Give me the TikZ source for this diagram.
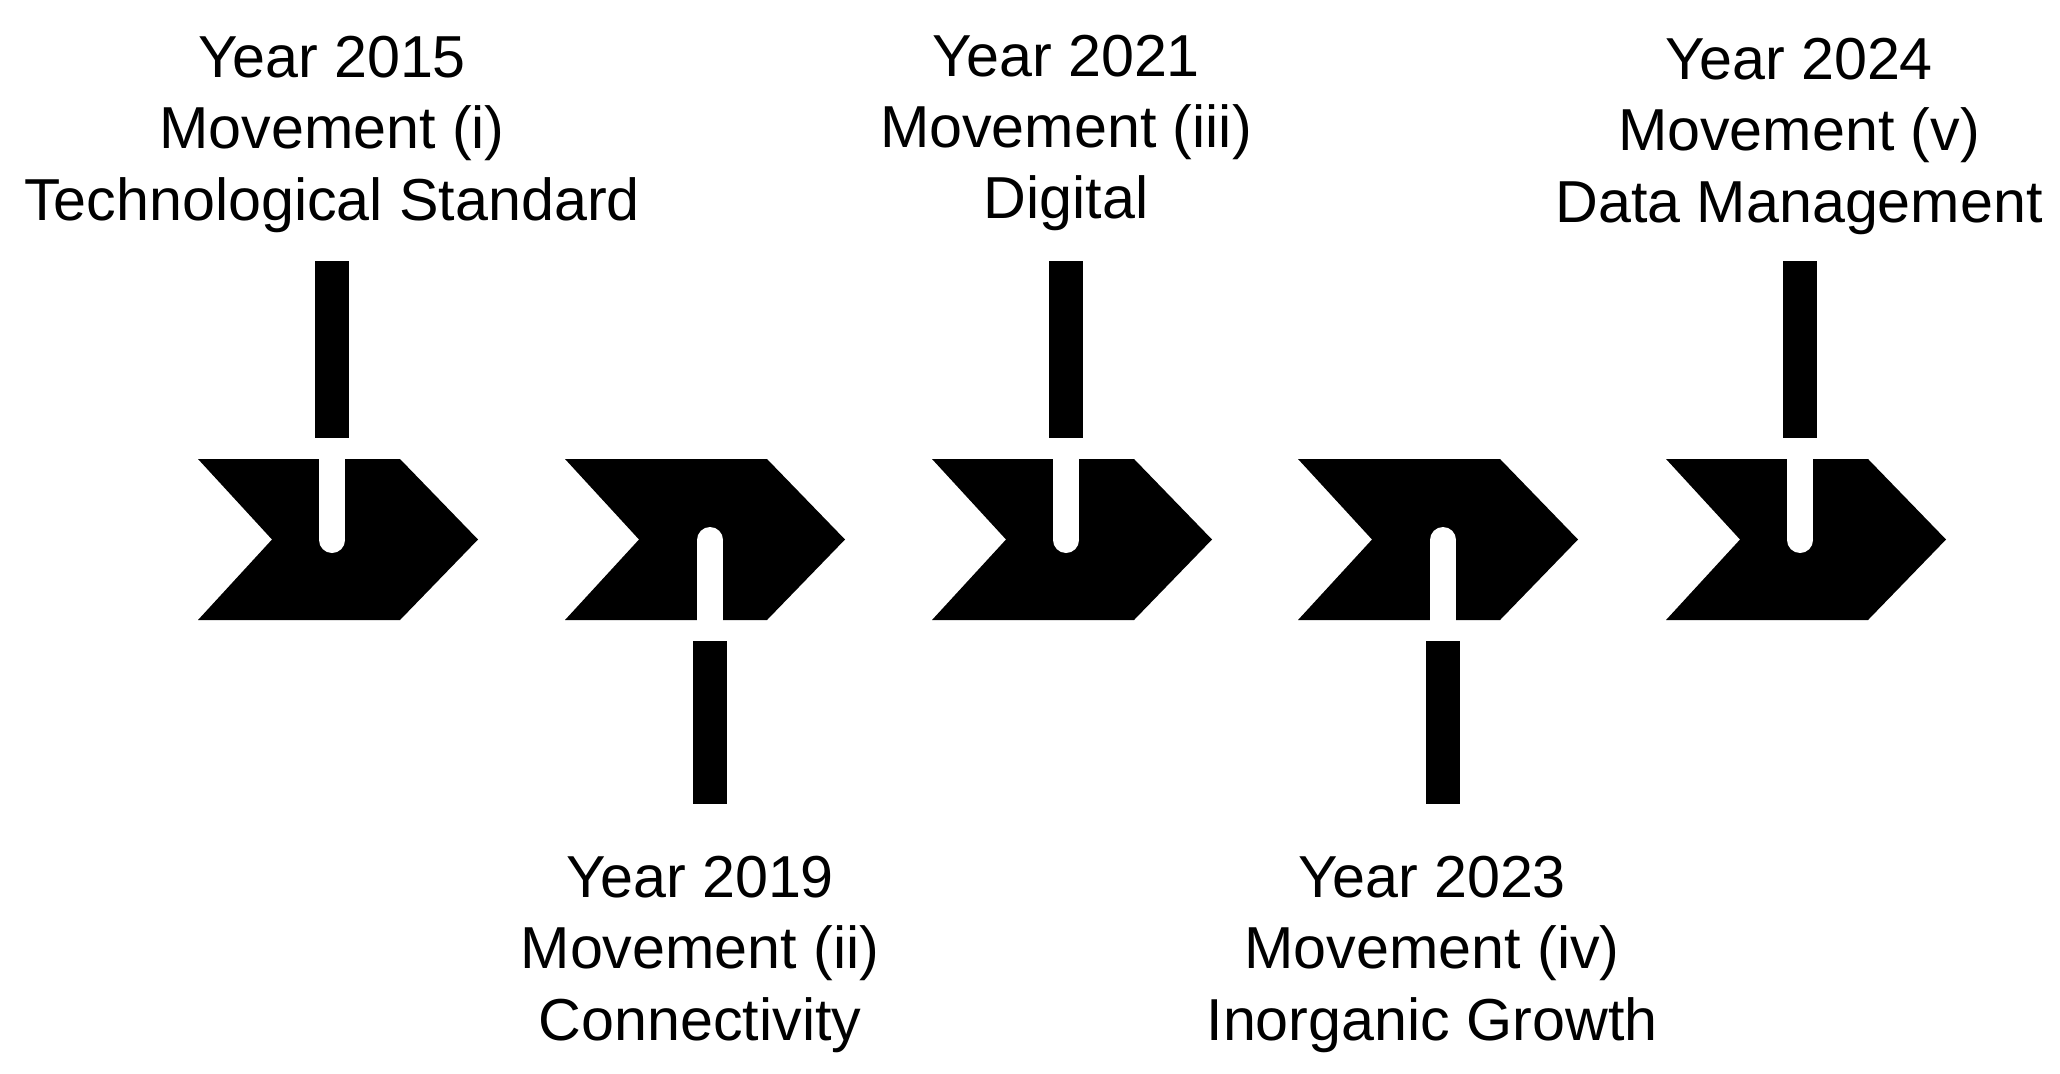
\documentclass[tikz,border=0pt]{standalone}
\usepackage{fontspec}
\setmainfont{Liberation Sans}
\usetikzlibrary{positioning}

\begin{document}
\begin{tikzpicture}[
    x=0.1mm, y=-0.1mm,
    yearlabel/.style={align=center, inner sep=0pt, anchor=base, font=\fontsize{16.85}{20.3}\selectfont},
    slot/.style={white, line width=2.6mm},
    post/.style={fill=black}
  ]
  \useasboundingbox (0,0) rectangle (2060,1073);

  % chevrons with the slot from the top
  \foreach \n/\cx in {1/198, 3/932, 5/1666} {
    \coordinate (chev\n) at (\cx,459);
    \fill (chev\n) -- ++(202,0) -- ++(78,80.5) -- ++(-78,80.5) -- ++(-202,0) -- ++(74,-80.5) -- cycle;
    \draw[slot] (\cx+134,457) -- (\cx+134,540);
    \fill[white] (\cx+134,540) circle[radius=1.3mm];
    \fill[post] (\cx+117,261) rectangle (\cx+151,438);
  }
  % chevrons with the slot from the bottom
  \foreach \n/\cx in {2/565, 4/1298} {
    \coordinate (chev\n) at (\cx,459);
    \fill (chev\n) -- ++(202,0) -- ++(78,80.5) -- ++(-78,80.5) -- ++(-202,0) -- ++(74,-80.5) -- cycle;
    \draw[slot] (\cx+145,622) -- (\cx+145,540);
    \fill[white] (\cx+145,540) circle[radius=1.3mm];
    \fill[post] (\cx+128,641) rectangle (\cx+162,804);
  }

  % base of a label is the baseline of its last line
  \node[yearlabel] (year2015) at (332,220) {Year 2015\\Movement (i)\\Technological Standard};
  \node[yearlabel] (year2019) at (700,1040) {Year 2019\\Movement (ii)\\Connectivity};
  \node[yearlabel] (year2021) at (1066,219) {Year 2021\\Movement (iii)\\Digital};
  \node[yearlabel] (year2023) at (1432,1040) {Year 2023\\Movement (iv)\\Inorganic Growth};
  \node[yearlabel] (year2024) at (1799,222) {Year 2024\\Movement (v)\\Data Management};
\end{tikzpicture}
\end{document}
